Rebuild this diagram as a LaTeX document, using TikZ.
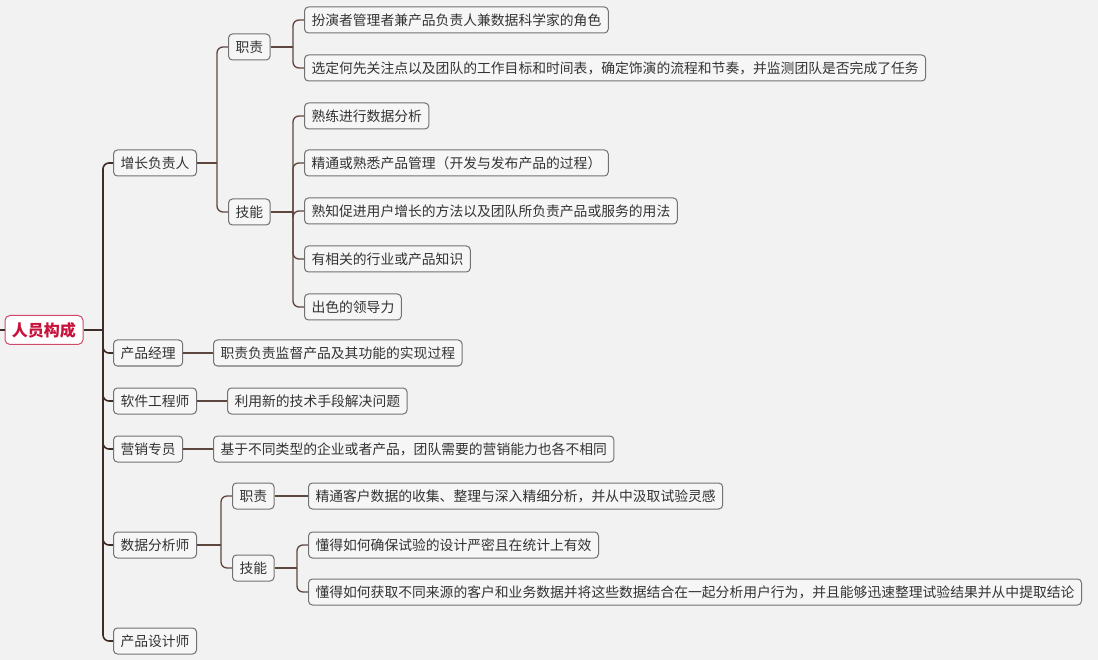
\documentclass[tikz,border=0pt]{standalone}
\usepackage{fontspec}
\setmainfont{Noto Sans CJK SC}
\definecolor{bgc}{HTML}{F3F2F2}
\definecolor{nfill}{HTML}{F6F6F6}
\definecolor{ndraw}{HTML}{727272}
\definecolor{ntext}{HTML}{333333}
\definecolor{rootred}{HTML}{C8143C}
\definecolor{rootdraw}{HTML}{D24A6A}
\definecolor{lineA}{HTML}{3E2C26}
\definecolor{lineB}{HTML}{5C463E}
\tikzset{
  leaf/.style={draw=ndraw, fill=nfill, text=ntext, rounded corners=4pt, line width=1pt,
    minimum height=26pt, inner xsep=7pt, inner ysep=0pt, anchor=west,
    font=\fontsize{13.8}{16}\selectfont},
  rootbox/.style={draw=rootdraw, fill=white, text=rootred, rounded corners=5pt, line width=1pt,
    minimum height=29pt, minimum width=78pt, inner xsep=7pt, inner ysep=0pt,
    font=\fontsize{16}{18}\selectfont\bfseries},
  brA/.style={draw=lineA, line width=1.6pt, rounded corners=6pt},
  brB/.style={draw=lineB, line width=1.3pt, rounded corners=6pt},
}
\begin{document}
\begin{tikzpicture}[x=1pt,y=-1pt]
\fill[bgc] (0,0) rectangle (1098,660);
\useasboundingbox (0,0) rectangle (1098,660);

% root
\node[rootbox] (root) at (44,330) {人员构成};

% level 1
\node[leaf] (g) at (113,163) {增长负责人};
\node[leaf] (pm) at (113,353) {产品经理};
\node[leaf] (se) at (113,401) {软件工程师};
\node[leaf] (mk) at (113,449) {营销专员};
\node[leaf] (da) at (113,545) {数据分析师};
\node[leaf] (pd) at (113,641) {产品设计师};

% 增长负责人 subtree
\node[leaf] (gz) at (228,47) {职责};
\node[leaf] (gj) at (228,212) {技能};
\node[leaf] (gz1) at (304,20) {扮演者管理者兼产品负责人兼数据科学家的角色};
\node[leaf] (gz2) at (304,68) {选定何先关注点以及团队的工作目标和时间表，确定饰演的流程和节奏，并监测团队是否完成了任务};
\node[leaf] (gj1) at (304,116) {熟练进行数据分析};
\node[leaf] (gj2) at (304,163) {精通或熟悉产品管理（开发与发布产品的过程）};
\node[leaf] (gj3) at (304,211) {熟知促进用户增长的方法以及团队所负责产品或服务的用法};
\node[leaf] (gj4) at (304,259) {有相关的行业或产品知识};
\node[leaf] (gj5) at (304,307) {出色的领导力};

% others
\node[leaf] (pm1) at (213,353) {职责负责监督产品及其功能的实现过程};
\node[leaf] (se1) at (227,401) {利用新的技术手段解决问题};
\node[leaf] (mk1) at (213,449) {基于不同类型的企业或者产品，团队需要的营销能力也各不相同};

% 数据分析师 subtree
\node[leaf] (dz) at (232,496) {职责};
\node[leaf] (dj) at (232,568) {技能};
\node[leaf] (dz1) at (308,496) {精通客户数据的收集、整理与深入精细分析，并从中汲取试验灵感};
\node[leaf] (dj1) at (308,545) {懂得如何确保试验的设计严密且在统计上有效};
\node[leaf] (dj2) at (308,592) {懂得如何获取不同来源的客户和业务数据并将这些数据结合在一起分析用户行为，并且能够迅速整理试验结果并从中提取结论};

% junction coordinates
\coordinate (rj) at (103,330);
\coordinate (gjn) at (217,163);
\coordinate (gzj) at (293,47);
\coordinate (gjj) at (293,212);
\coordinate (daj) at (221,545);
\coordinate (djj) at (297,568);

% root branches
\draw[brA] (root.east) -- (rj);
\foreach \c in {g,pm,se,mk,da,pd} \draw[brA] (rj) |- (\c.west);
\draw[lineA, line width=1.6pt] (0,330) -- (root.west);

% 增长负责人
\draw[brB] (g.east) -- (gjn);
\foreach \c in {gz,gj} \draw[brB] (gjn) |- (\c.west);
\draw[brB] (gz.east) -- (gzj);
\foreach \c in {gz1,gz2} \draw[brB] (gzj) |- (\c.west);
\draw[brB] (gj.east) -- (gjj);
\foreach \c in {gj1,gj2,gj3,gj4,gj5} \draw[brB] (gjj) |- (\c.west);

% single children
\draw[brB] (pm.east) -- (pm1.west);
\draw[brB] (se.east) -- (se1.west);
\draw[brB] (mk.east) -- (mk1.west);

% 数据分析师
\draw[brB] (da.east) -- (daj);
\foreach \c in {dz,dj} \draw[brB] (daj) |- (\c.west);
\draw[brB] (dz.east) -- (dz1.west);
\draw[brB] (dj.east) -- (djj);
\foreach \c in {dj1,dj2} \draw[brB] (djj) |- (\c.west);
\end{tikzpicture}
\end{document}
